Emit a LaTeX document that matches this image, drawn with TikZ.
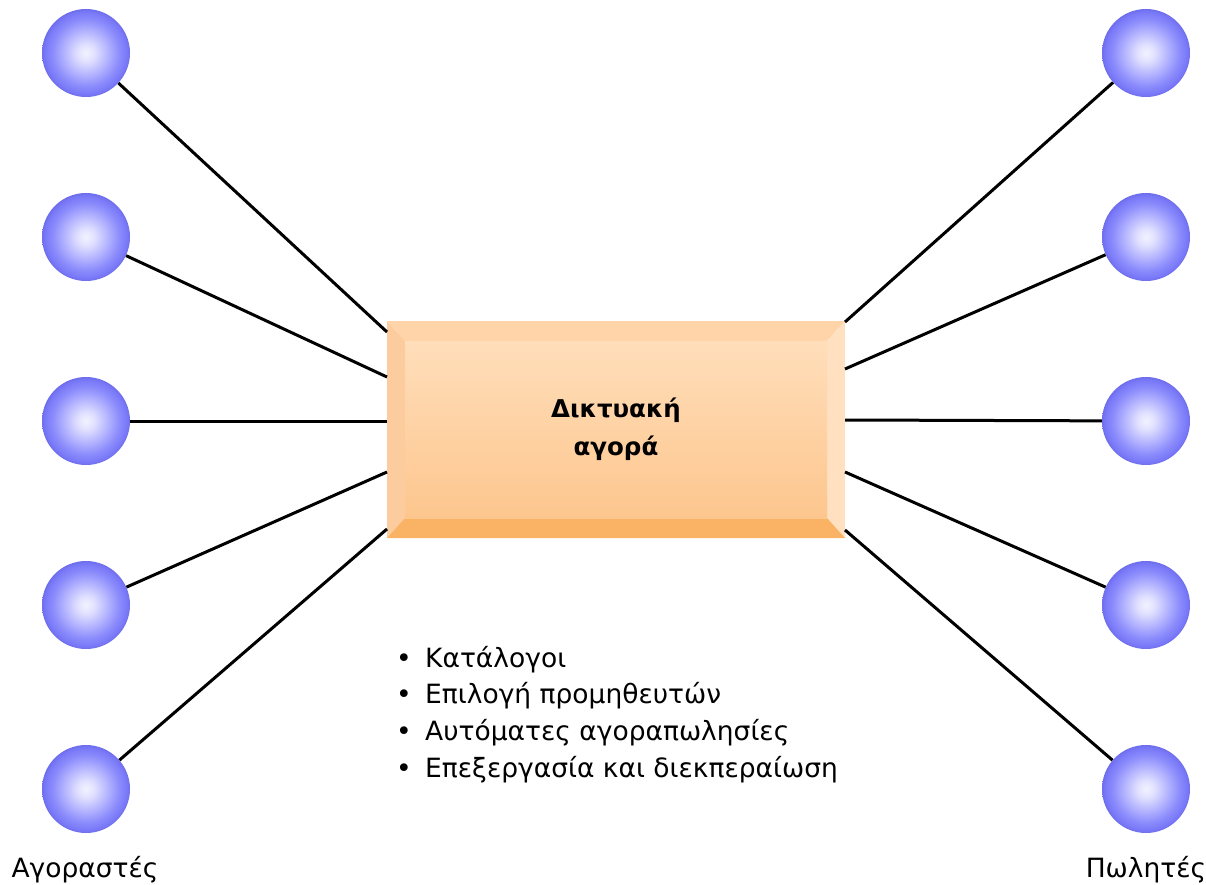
\documentclass[tikz,border=0pt]{standalone}
\usepackage{fontspec}
\setmainfont{DejaVu Sans}
\definecolor{sph0}{RGB}{242,242,255}
\definecolor{sph1}{RGB}{224,224,255}
\definecolor{sph2}{RGB}{176,176,255}
\definecolor{sph3}{RGB}{140,140,252}
\definecolor{sph4}{RGB}{120,120,248}
\definecolor{sph5}{RGB}{110,110,236}
\pgfdeclareradialshading{sphereblue}{\pgfpoint{0bp}{0bp}}{color(0bp)=(sph0); color(5bp)=(sph1); color(13bp)=(sph2); color(19bp)=(sph3); color(23.5bp)=(sph4); color(25bp)=(sph5); color(50bp)=(sph5)}
\definecolor{bevtop}{RGB}{254,212,168}
\definecolor{bevleft}{RGB}{252,204,158}
\definecolor{bevright}{RGB}{255,224,192}
\definecolor{bevbot}{RGB}{250,178,100}
\definecolor{facetop}{RGB}{255,222,186}
\definecolor{facebot}{RGB}{253,198,142}
\begin{document}
\begin{tikzpicture}[x=1pt,y=-1pt,
  party/.style={circle, minimum size=88pt, inner sep=0pt, shading=sphereblue},
  link/.style={line width=3pt, black},
  listitem/.style={anchor=base west, inner sep=0pt, font=\fontsize{26.5}{30}\selectfont},
  sidelabel/.style={anchor=base, inner sep=0pt, font=\fontsize{26.5}{30}\selectfont}]
\useasboundingbox[fill=white] (0,0) rectangle (1206,885);
% bevelled box
\fill[bevtop] (387,321) -- (845,321) -- (827,341) -- (405,341) -- cycle;
\fill[bevleft] (387,321) -- (405,341) -- (405,518) -- (387,538) -- cycle;
\fill[bevright] (845,321) -- (845,538) -- (827,518) -- (827,341) -- cycle;
\fill[bevbot] (387,538) -- (405,518) -- (827,518) -- (845,538) -- cycle;
\shade[top color=facetop, bottom color=facebot] (405,341) rectangle (827,518);
\node[minimum width=458pt, minimum height=217pt, inner sep=0pt, align=center,
      font=\bfseries\fontsize{24.5}{38}\selectfont] (box) at (616,429.5) {Δικτυακή\\αγορά};
% parties
\foreach \i/\y in {1/53,2/237,3/421,4/605,5/789}{
  \node[party] (b\i) at (86,\y) {};
  \node[party] (s\i) at (1146,\y) {};
}
% attachment points on the box
\coordinate (bl1) at (387,332);
\coordinate (bl2) at (387,377);
\coordinate (bl3) at (387,421);
\coordinate (bl4) at (387,472);
\coordinate (bl5) at (387,529);
\coordinate (sr1) at (845,322);
\coordinate (sr2) at (845,369);
\coordinate (sr3) at (845,420);
\coordinate (sr4) at (845,472);
\coordinate (sr5) at (845,530);
\foreach \i in {1,...,5}{
  \draw[link] (b\i) -- (bl\i);
  \draw[link] (s\i) -- (sr\i);
}
% list
\node[listitem] (li1) at (396,667) {\makebox[29pt][l]{•}Κατάλογοι};
\node[listitem] (li2) at (396,703) {\makebox[29pt][l]{•}Επιλογή προμηθευτών};
\node[listitem] (li3) at (396,740) {\makebox[29pt][l]{•}Αυτόματες αγοραπωλησίες};
\node[listitem] (li4) at (396,777) {\makebox[29pt][l]{•}Επεξεργασία και διεκπεραίωση};
% side labels
\node[sidelabel] (buyers) at (85,877) {Αγοραστές};
\node[sidelabel] (sellers) at (1146,877) {Πωλητές};
\end{tikzpicture}
\end{document}
